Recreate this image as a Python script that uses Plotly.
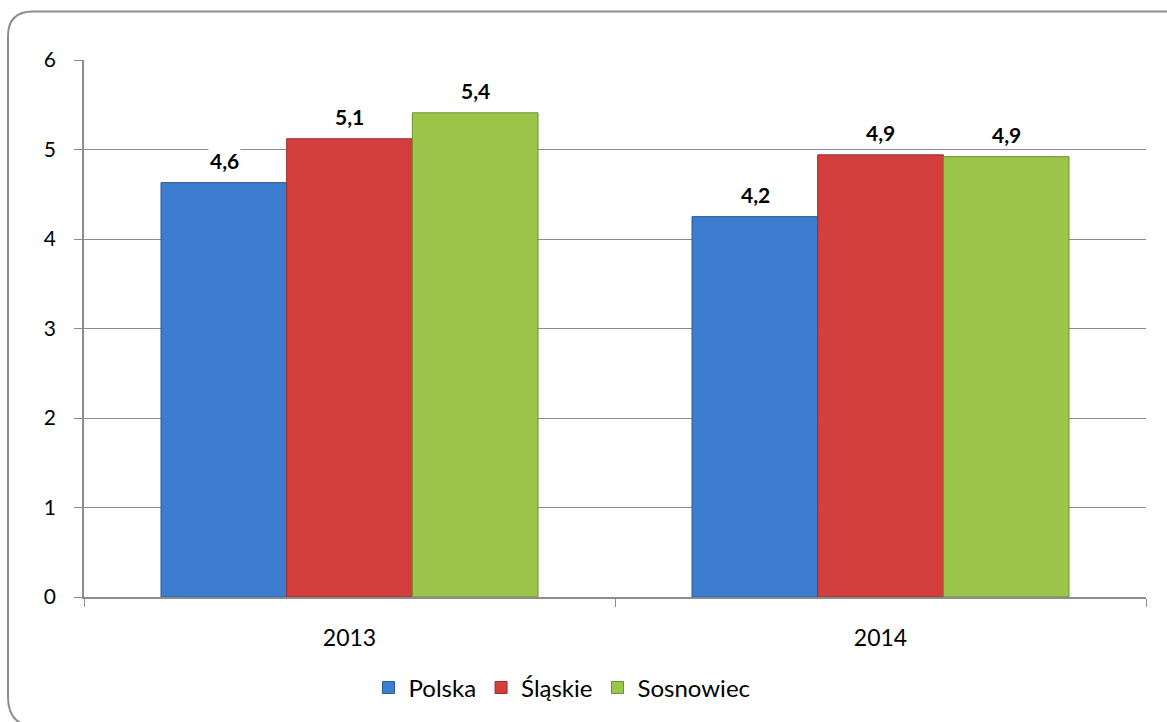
import plotly.graph_objects as go

categories = ["2013", "2014"]
series_names = ["Polska", "Śląskie", "Sosnowiec"]
polska = [4.63, 4.25]
slaskie = [5.12, 4.94]
sosnowiec = [5.41, 4.92]
labels_polska = ["4,6", "4,2"]
labels_slaskie = ["5,1", "4,9"]
labels_sosnowiec = ["5,4", "4,9"]
y_ticks = [0, 1, 2, 3, 4, 5, 6]

colors = ["#3d7dcf", "#d33f3d", "#9cc64a"]
edge_colors = ["#2b5a96", "#9a2c2a", "#6f8f2e"]

W, H = 1167, 722
L, R, T, B = 84, 1146, 60, 602  # plot area in px
FONT = "Lato, Open Sans, sans-serif"

fig = go.Figure()
values = [polska, slaskie, sosnowiec]
labels = [labels_polska, labels_slaskie, labels_sosnowiec]
for name, vals, c, ec in zip(series_names, values, colors, edge_colors):
    fig.add_trace(go.Bar(
        x=categories, y=vals, name=name,
        marker=dict(color=c, line=dict(color=ec, width=1)),
    ))

# data labels with white background
n = len(series_names)
for si, (vals, labs) in enumerate(zip(values, labels)):
    for ci, (v, lab) in enumerate(zip(vals, labs)):
        fig.add_annotation(
            x=ci, y=v, text="<b>" + lab + "</b>",
            xref="x", yref="y", showarrow=False,
            xshift=(si - (n - 1) / 2) * 125.5,
            yshift=22, bgcolor="white",
            font=dict(family=FONT, size=21, color="black"),
        )

def px(x):
    return (x - L) / (R - L)

def py(y):
    return (B - y) / (B - T)

# rounded border
x0, x1, y0, y1, rt, rb = 8, 1190, 11, 733, 25, 30
path = (
    f"M {px(x0 + rt)} {py(y0)} L {px(x1 - rt)} {py(y0)} "
    f"Q {px(x1)} {py(y0)} {px(x1)} {py(y0 + rt)} "
    f"L {px(x1)} {py(y1 - rb)} Q {px(x1)} {py(y1)} {px(x1 - rb)} {py(y1)} "
    f"L {px(x0 + rb)} {py(y1)} Q {px(x0)} {py(y1)} {px(x0)} {py(y1 - rb)} "
    f"L {px(x0)} {py(y0 + rt)} Q {px(x0)} {py(y0)} {px(x0 + rt)} {py(y0)} Z"
)
fig.add_shape(type="path", path=path, xref="paper", yref="paper",
              line=dict(color="#8c8c8c", width=2), layer="below")

fig.update_layout(
    width=W, height=H,
    margin=dict(l=L, r=W - R, t=T, b=H - B),
    paper_bgcolor="white", plot_bgcolor="white",
    barmode="group", bargap=0.29, bargroupgap=0,
    font=dict(family=FONT, size=21, color="black"),
    showlegend=True,
    legend=dict(orientation="h", x=(562 - L) / (R - L), xanchor="center",
                y=py(671), yanchor="top",
                font=dict(size=24), itemwidth=30, traceorder="normal"),
)
fig.update_yaxes(
    range=[0, 6], tickvals=y_ticks, showgrid=True, gridcolor="#8c8c8c", gridwidth=1,
    showline=True, linecolor="#8c8c8c", linewidth=1.5,
    ticks="outside", ticklen=8, tickcolor="#8c8c8c", ticklabelstandoff=14,
    tickfont=dict(size=21), zeroline=False, fixedrange=True,
)
fig.update_xaxes(
    type="category",
    showline=True, linecolor="#8c8c8c", linewidth=1.5,
    ticks="outside", ticklen=8, tickcolor="#8c8c8c", tickson="boundaries",
    ticklabelstandoff=20, tickangle=0, tickfont=dict(size=23),
)

fig.write_html(
    "out.html",
    config={"displayModeBar": False},
    post_script="document.body.style.margin='0';document.body.style.overflow='hidden';",
)
